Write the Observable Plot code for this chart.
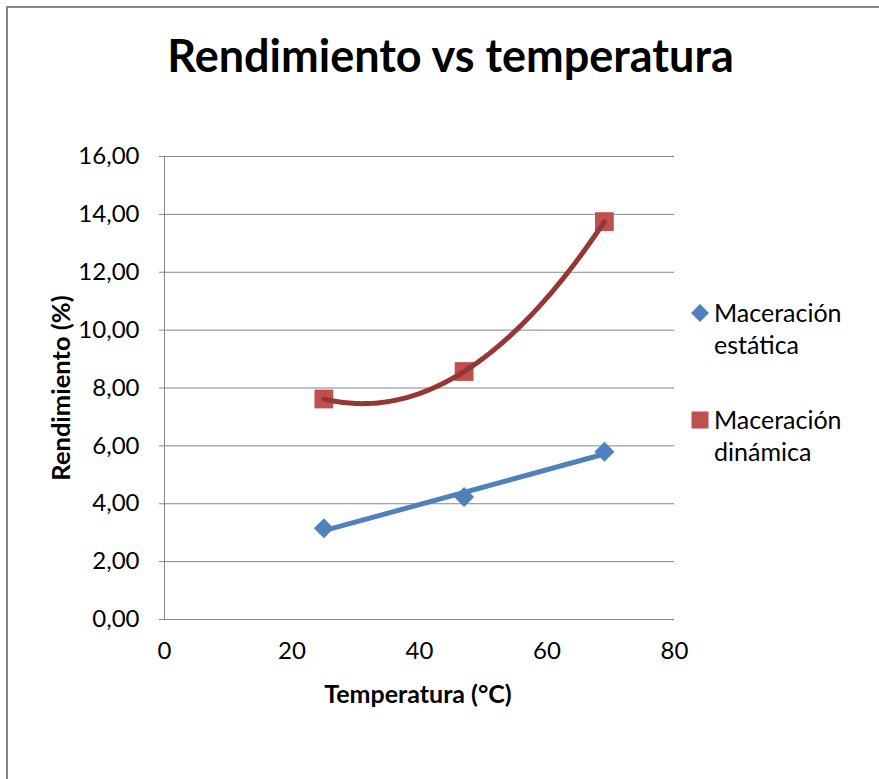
<!DOCTYPE html>
<html>
<head>
<meta charset="utf-8">
<script src="https://cdn.jsdelivr.net/npm/d3@7"></script>
<script src="https://cdn.jsdelivr.net/npm/@observablehq/plot@0.6"></script>
<style>
  html, body { margin: 0; padding: 0; background: #fff; overflow: hidden; width: 879px; height: 779px; }
  #wrap { position: relative; width: 879px; height: 779px; overflow: hidden; font-family: Lato, "Open Sans", sans-serif; color: #000; background: #fff; }
  .bt { position: absolute; left: 6px; top: 6px; width: 900px; height: 2px; background: #868686; }
  .bl { position: absolute; left: 6px; top: 6px; width: 2px; height: 800px; background: #868686; }
  #chart { position: absolute; left: 0; top: 0; width: 879px; height: 779px; overflow: hidden; }
  .title { position: absolute; left: 0; width: 879px; text-align: center; top: 33px; font-size: 45px; font-weight: 700; line-height: 1; white-space: nowrap; text-indent: 22px; }
  .xlabel { position: absolute; left: 268px; width: 300px; text-align: center; top: 681px; font-size: 25px; font-weight: 700; line-height: 1; white-space: nowrap; }
  .ylabel { position: absolute; left: -90px; width: 300px; text-align: center; top: 375px; font-size: 25.5px; font-weight: 700; line-height: 26px; white-space: nowrap; transform: rotate(-90deg); transform-origin: 150px 13px; }
  .leg { position: absolute; left: 714px; font-size: 25px; line-height: 32px; white-space: nowrap; }
  .sw { position: absolute; }
</style>
</head>
<body>
<div id="wrap">
  <div class="bt"></div>
  <div class="bl"></div>
  <div id="chart"></div>
  <div class="title">Rendimiento vs temperatura</div>
  <div class="xlabel">Temperatura (°C)</div>
  <div class="ylabel">Rendimiento (%)</div>
</div>
<script>
// ---- data ----
const temperatura = [25, 47, 69];
const maceracionEstatica = [3.15, 4.23, 5.80];
const maceracionDinamica = [7.62, 8.57, 13.75];
const seriesNames = ["Maceración estática", "Maceración dinámica"];
const xTicks = [0, 20, 40, 60, 80];
const yTicks = [0, 2, 4, 6, 8, 10, 12, 14, 16];

const blue = "#4F81BD", red = "#C0504D", redLine = "#953735";

const estatica = temperatura.map((t, i) => ({x: t, y: maceracionEstatica[i]}));
const dinamica = temperatura.map((t, i) => ({x: t, y: maceracionDinamica[i]}));

// polynomial (order 2) trendline fitted by least squares to the dynamic series, like the spreadsheet's trendline
function quadFit(pts) {
  let S = [0,0,0,0,0], T = [0,0,0];
  for (const p of pts) {
    for (let k = 0; k < 5; k++) S[k] += Math.pow(p.x, k);
    for (let k = 0; k < 3; k++) T[k] += p.y * Math.pow(p.x, k);
  }
  const A = [[S[0],S[1],S[2],T[0]],[S[1],S[2],S[3],T[1]],[S[2],S[3],S[4],T[2]]];
  for (let i = 0; i < 3; i++) {
    for (let j = i + 1; j < 3; j++) {
      const f = A[j][i] / A[i][i];
      for (let k = i; k < 4; k++) A[j][k] -= f * A[i][k];
    }
  }
  const c = [0,0,0];
  for (let i = 2; i >= 0; i--) {
    let s = A[i][3];
    for (let k = i + 1; k < 3; k++) s -= A[i][k] * c[k];
    c[i] = s / A[i][i];
  }
  return x => c[0] + c[1] * x + c[2] * x * x;
}
const qf = quadFit(dinamica);
const [x0, x1] = d3.extent(temperatura);
const trendDin = d3.range(x0, x1 + 0.001, 0.5).map(x => ({x, y: qf(x)}));

const fmt = d => d.toFixed(2).replace(".", ",");

const plot = Plot.plot({
  width: 879,
  height: 779,
  marginLeft: 164,
  marginRight: 205,
  marginTop: 156,
  marginBottom: 160,
  style: { fontFamily: "Lato, 'Open Sans', sans-serif", fontSize: "24px", color: "#000", background: "transparent", overflow: "hidden" },
  x: { domain: [0, 80] },
  y: { domain: [0, 16] },
  marks: [
    Plot.gridY(yTicks, { stroke: "#868686", strokeOpacity: 1, strokeWidth: 1 }),
    Plot.ruleX([0], { stroke: "#868686", strokeWidth: 1 }),
    Plot.axisY({ ticks: yTicks, tickSize: 5, tickPadding: 20, tickFormat: fmt, stroke: "#868686", fill: "#000", label: null }),
    Plot.axisX({ ticks: xTicks, tickSize: 0, tickPadding: 22, tickFormat: d => String(d), fill: "#000", label: null }),
    Plot.dot(estatica, { x: "x", y: "y", symbol: "diamond2", r: 9, fill: blue, stroke: "none" }),
    Plot.dot(dinamica, { x: "x", y: "y", symbol: "square", r: 10.6, fill: red, stroke: "none" }),
    Plot.linearRegressionY(estatica, { x: "x", y: "y", stroke: blue, strokeWidth: 5, ci: 0, strokeLinecap: "round" }),
    Plot.line(trendDin, { x: "x", y: "y", stroke: redLine, strokeWidth: 5, strokeLinecap: "round", curve: "linear" })
  ]
});
document.getElementById("chart").appendChild(plot);

// legend
const wrap = document.getElementById("wrap");
const legItems = [
  { name: seriesNames[0], color: blue, shape: "diamond", top: 296, cy: 313 },
  { name: seriesNames[1], color: red, shape: "square", top: 403, cy: 420 }
];
for (const it of legItems) {
  const sw = document.createElementNS("http://www.w3.org/2000/svg", "svg");
  sw.setAttribute("width", 20); sw.setAttribute("height", 20);
  sw.setAttribute("class", "sw");
  sw.style.left = (700 - 10) + "px";
  sw.style.top = (it.cy - 10) + "px";
  sw.innerHTML = it.shape === "diamond"
    ? `<path d="M10,1 L19,10 L10,19 L1,10 Z" fill="${it.color}"/>`
    : `<rect x="1.5" y="1.5" width="17" height="17" fill="${it.color}"/>`;
  wrap.appendChild(sw);
  const words = it.name.split(" ");
  const d = document.createElement("div");
  d.className = "leg";
  d.style.top = it.top + "px";
  d.innerHTML = words[0] + "<br>" + words[1];
  wrap.appendChild(d);
}
</script>
</body>
</html>
